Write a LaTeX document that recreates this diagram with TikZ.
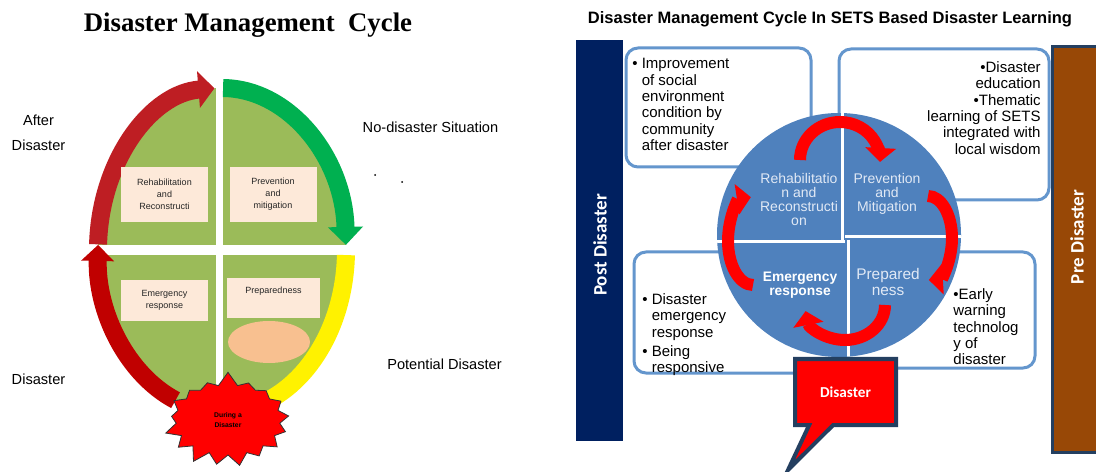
\documentclass[tikz,border=0pt]{standalone}
\usepackage{fontspec}
\setmainfont{Liberation Sans}
\newfontfamily\timesfont{Liberation Serif}
\newfontfamily\carlito{Carlito}
\usetikzlibrary{arrows.meta,shapes.symbols,shapes.callouts}

\definecolor{olive}{RGB}{155,187,89}
\definecolor{upperred}{RGB}{190,30,35}
\definecolor{lowerred}{RGB}{192,0,0}
\definecolor{cyclegreen}{RGB}{0,176,80}
\definecolor{peach}{RGB}{253,233,217}
\definecolor{salmon}{RGB}{248,192,144}
\definecolor{navy}{RGB}{0,32,96}
\definecolor{brownbar}{RGB}{152,72,6}
\definecolor{slate}{RGB}{36,63,96}
\definecolor{steel}{RGB}{79,129,189}
\definecolor{boxline}{RGB}{100,150,205}
\definecolor{quadtext}{RGB}{225,233,245}

\newcommand{\bulind}{\hphantom{\textbullet\ }}

\begin{document}
\begin{tikzpicture}[
  x=0.5pt, y=0.5pt,
  phase/.style={font=\fontsize{7.3}{12.5}\selectfont, align=center, inner sep=0pt},
  stagebox/.style={fill=peach, minimum width=43.5pt, minimum height=27.5pt, inner sep=0pt,
    align=center, text=black!85, font=\fontsize{4.5}{6}\selectfont},
  phasearrow/.style={line width=9pt},
  note/.style={font=\fontsize{7.5}{8.2}\selectfont, align=left, inner sep=0pt},
  infobox/.style={draw=boxline, line width=1.5pt, rounded corners=6pt, fill=white},
  quad/.style={font=\fontsize{7}{7}\selectfont, align=center, text=quadtext, inner sep=0pt},
  barlabel/.style={font=\carlito\bfseries\fontsize{9.5}{11}\selectfont, text=white, inner sep=0pt},
  cyclearrow/.style={line width=6pt, red, -{Triangle[length=7pt,width=15pt]}}
]
\useasboundingbox (0,0) rectangle (1096,471);
\fill[white] (0,0) rectangle (1096,471);

% Left cycle
\coordinate (hub) at (222,221);
\fill[olive] (hub) ellipse[x radius=124, y radius=162];
\fill[white] (216,35) rectangle (223,410);
\fill[white] (80,216) rectangle (365,226);

\draw[phasearrow, upperred, -{Triangle[length=8pt,width=18pt]}]
  ([shift={(178:124 and 162)}]hub) arc[start angle=178, end angle=93.5, x radius=124, y radius=162];
\draw[phasearrow, cyclegreen, -{Triangle[length=9pt,width=17pt]}]
  ([shift={(89.5:124 and 162)}]hub) arc[start angle=89.5, end angle=1.8, x radius=124, y radius=162];
\draw[phasearrow, yellow]
  ([shift={(-1.8:124 and 162)}]hub) arc[start angle=-1.8, end angle=-75, x radius=124, y radius=162];
\draw[phasearrow, lowerred, -{Triangle[length=8pt,width=16pt]}]
  ([shift={(-112:124 and 162)}]hub) arc[start angle=-112, end angle=-181.8, x radius=124, y radius=162];

% Nodes
\node[font=\timesfont\bfseries\fontsize{13.4}{16}\selectfont] (lefttitle) at (248,446) {Disaster Management\ \ Cycle};
\node[phase] (after) at (38.5,338) {After\\Disaster};
\node[phase] (nodisaster) at (430.5,344) {No-disaster Situation};
\node[phase] (disaster) at (38.5,92) {Disaster};
\node[phase] (potential) at (444.5,107) {Potential Disaster};
\fill (375,296) circle[radius=1];
\fill (402,289) circle[radius=1];

\node[stagebox] (rehab) at (164.5,276.5) {Rehabilitation\\and\\Reconstructi};
\node[stagebox] (prevent) at (273,276.5) {Prevention\\and\\mitigation};
\node[stagebox, minimum height=20.5pt] (emergency) at (164.5,170.5) {Emergency\\response};
\node[stagebox, minimum width=46.5pt, minimum height=20pt, text depth=8pt] (prepared) at (273.5,173) {Preparedness};
\fill[salmon] (269,129) ellipse[x radius=41, y radius=21];

\node[starburst, fill=red, draw=black!80, thin, minimum width=66pt, minimum height=49pt,
  starburst points=17, starburst point height=7pt, random starburst=7, inner sep=0pt,
  align=center, font=\bfseries\fontsize{3.4}{5}\selectfont] (during) at (228,51) {During a\\Disaster};

% Right panel
\node[font=\bfseries\fontsize{8.25}{10}\selectfont] (righttitle) at (830,452)
  {Disaster Management Cycle In SETS Based Disaster Learning};

\fill[navy] (576,30) rectangle (623,431);
\node[barlabel, rotate=90] (post) at (600,226) {Post Disaster};
\filldraw[fill=brownbar, draw=slate, line width=1.5pt] (1052,19) rectangle (1102,424);
\node[barlabel, rotate=90] (pre) at (1077,234) {Pre Disaster};

\draw[infobox] (626,304) rectangle (811,423);
\draw[infobox] (839,271) rectangle (1049,422);
\draw[infobox] (634,98) rectangle (845,219);
\draw[infobox] (848,103) rectangle (1035,219);

\node[note, anchor=north west] (improve) at (632,413)
  {\textbullet\ Improvement\\\bulind of social\\\bulind environment\\\bulind condition by\\\bulind community\\\bulind after disaster};
\node[note, align=right, anchor=north east] (education) at (1041,410)
  {\textbullet Disaster\\education\\\textbullet Thematic\\learning of SETS\\integrated with\\local wisdom};
\node[note, anchor=north west] (respond) at (642,178)
  {\textbullet\ Disaster\\\bulind emergency\\\bulind response\\[1.5pt]\textbullet\ Being\\\bulind responsive};
\node[note, anchor=north west] (warning) at (953,183)
  {\textbullet Early\\warning\\technolog\\y of\\disaster};

\node[circle, fill=steel, minimum size=122pt, inner sep=0pt] (wheel) at (839,236) {};
\begin{scope}
  \clip (839,236) circle[radius=122];
  \draw[white, line width=1.5pt] (842,370) -- (842,231);
  \draw[white, line width=1.5pt] (848,231) -- (848,100);
  \draw[white, line width=1.5pt] (700,229) -- (845,229);
  \draw[white, line width=1.5pt] (845,234) -- (980,234);
\end{scope}

\node[quad] (rehabq) at (799,272) {Rehabilitatio\\n and\\Reconstructi\\on};
\node[quad] (preventq) at (887,277) {Prevention\\and\\Mitigation};
\node[quad, font=\bfseries\fontsize{6.9}{7}\selectfont, text=white] (emergencyq) at (800,186) {Emergency\\response};
\node[quad, font=\fontsize{7.7}{8.3}\selectfont] (preparedq) at (888,189) {Prepared\\ness};

% Arrows
\coordinate (topc) at (840,311);
\coordinate (rightc) at (928,233);
\coordinate (bottomc) at (845,166);
\coordinate (leftc) at (753,230);
\draw[cyclearrow] ([shift={(180:40 and 38)}]topc) arc[start angle=180, end angle=-3, x radius=40, y radius=38];
\draw[cyclearrow] ([shift={(90:24 and 42)}]rightc) arc[start angle=90, end angle=-88, x radius=24, y radius=42];
\draw[cyclearrow] ([shift={(0:40 and 35)}]bottomc) arc[start angle=0, end angle=-170, x radius=40, y radius=35];
\draw[cyclearrow] ([shift={(-90:25 and 44)}]leftc) arc[start angle=-90, end angle=-265, x radius=25, y radius=44];

\node[rectangle callout, fill=red, draw=slate, line width=2pt, minimum width=50.5pt, minimum height=33pt,
  callout absolute pointer={(788,1)}, callout pointer width=12pt,
  font=\carlito\bfseries\fontsize{7.6}{9}\selectfont, text=white] (callout) at (845.5,79) {Disaster};

\end{tikzpicture}
\end{document}
